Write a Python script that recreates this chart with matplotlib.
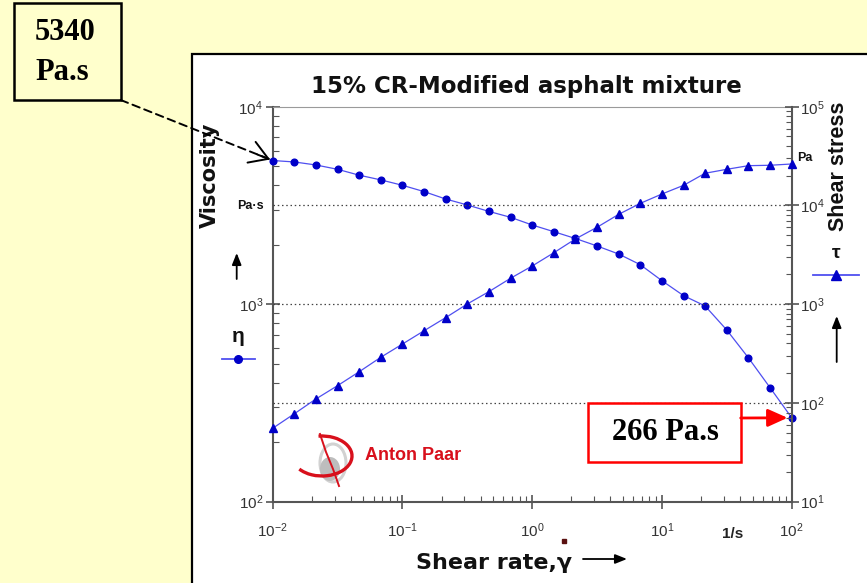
import matplotlib
matplotlib.use('Agg')
import matplotlib.pyplot as plt
from matplotlib.patches import Rectangle, Ellipse, Arc
from matplotlib.ticker import LogLocator, NullFormatter

# canvas size in pixels
W, H = 867, 583

BG = '#ffffcc'
LINE = '#4f4ff0'
MARK = '#0000c8'
AXC = '#555555'
TXT = '#333333'
WIDE = 'DejaVu Sans'   # wider bold face for the big labels

plt.rcParams['font.family'] = ['Liberation Sans', 'DejaVu Sans']

# data
shear_rate = [0.01, 0.0147, 0.0215, 0.0316, 0.0464, 0.0681, 0.1, 0.147, 0.215,
              0.316, 0.464, 0.681, 1.0, 1.47, 2.15, 3.16, 4.64, 6.81, 10.0,
              14.7, 21.5, 31.6, 46.4, 68.1, 100.0]
viscosity = [5340, 5250, 5070, 4820, 4500, 4260, 4000, 3715, 3410, 3180, 2950,
             2754, 2518, 2328, 2152, 1972, 1795, 1585, 1315, 1104, 980, 740,
             535, 378, 266]
shear_stress = [55.4, 77.8, 109.6, 149.6, 207, 290, 395, 539, 730, 1005, 1340,
                1830, 2437, 3323, 4575, 6010, 8130, 10500, 13060, 16000, 21180,
                23230, 25280, 25520, 26300]
grid_levels = [1e2, 1e3, 1e4]

fig = plt.figure(figsize=(W / 100, H / 100), dpi=100, facecolor=BG)

# white chart panel
panel = Rectangle((192 / W, -0.02), 0.85, 1 - 54 / H + 0.02, transform=fig.transFigure,
                  facecolor='white', edgecolor='black', linewidth=1.6, zorder=-5)
fig.add_artist(panel)

ax = fig.add_axes([272.7 / W, 1 - 501.7 / H, 519 / W, 395 / H])
ax.set_xscale('log')
ax.set_yscale('log')
ax.set_xlim(1e-2, 1e2)
ax.set_ylim(1e2, 1e4)

ax2 = ax.twinx()
ax2.set_yscale('log')
ax2.set_ylim(1e1, 1e5)

for v in grid_levels:
    ax2.axhline(v, color='#444444', linestyle=(0, (1.2, 2.2)), linewidth=0.9, zorder=1)

ax.plot(shear_rate, viscosity, color=LINE, linewidth=0.9, marker='o', markersize=4.8,
        markerfacecolor=MARK, markeredgecolor=MARK, zorder=3, clip_on=False)
ax2.plot(shear_rate, shear_stress, color=LINE, linewidth=0.9, marker='^', markersize=5.8,
         markerfacecolor=MARK, markeredgecolor=MARK, zorder=3, clip_on=False)

# spines
for s in ['left', 'bottom']:
    ax.spines[s].set_color(AXC)
    ax.spines[s].set_linewidth(1.5)
ax.spines['top'].set_color('#9a9a9a')
ax.spines['top'].set_linewidth(0.8)
ax.spines['right'].set_visible(False)
for s in ['left', 'bottom', 'top']:
    ax2.spines[s].set_visible(False)
ax2.spines['right'].set_color(AXC)
ax2.spines['right'].set_linewidth(1.5)

# ticks
for a in (ax, ax2):
    a.tick_params(which='major', direction='inout', length=10, width=1.2, color=AXC,
                  labelcolor=TXT, labelsize=11)
    a.tick_params(which='minor', direction='in', length=4, width=0.8, color=AXC)
    a.yaxis.set_minor_locator(LogLocator(base=10, subs=range(2, 10)))
    a.yaxis.set_minor_formatter(NullFormatter())
ax.xaxis.set_minor_locator(LogLocator(base=10, subs=range(2, 10)))
ax.xaxis.set_minor_formatter(NullFormatter())
ax.tick_params(axis='x', pad=9, top=False)
ax.tick_params(axis='y', pad=2)
ax2.tick_params(axis='y', pad=1)

# overlay in pixel coordinates for labels and call-outs
ov = fig.add_axes([0, 0, 1, 1], zorder=10)
ov.set_xlim(0, W)
ov.set_ylim(H, 0)
ov.axis('off')

ov.text(526, 86, '15% CR-Modified asphalt mixture', fontsize=16.5, fontweight='bold',
        family=WIDE, ha='center', va='center', color='#111111')
ov.text(210, 175, 'Viscosity', fontsize=15, fontweight='bold', family=WIDE, rotation=90,
        ha='center', va='center', color='#111111')
ov.text(839, 166, 'Shear stress', fontsize=15.5, fontweight='bold', rotation=90,
        ha='center', va='center', color='#111111')
ov.text(250, 206, 'Pa·s', fontsize=9, fontweight='bold', ha='center', va='center', color='#111111')
ov.text(805, 158, 'Pa', fontsize=9, fontweight='bold', ha='center', va='center', color='#111111')
ov.text(238, 336, 'η', fontsize=15, fontweight='bold', ha='center', va='center', color='#111111')
ov.text(836, 253, 'τ', fontsize=14, fontweight='bold', ha='center', va='center', color='#111111')
ov.text(733, 534, '1/s', fontsize=11, fontweight='bold', ha='center', va='center', color='#222222')
ov.text(416, 563, 'Shear rate,γ', fontsize=16, fontweight='bold', family=WIDE, ha='left',
        va='center', color='#111111')
ov.plot([564], [541], marker='s', markersize=2.5, color='#5a1010')

# legend keys
ov.plot([222, 255], [359, 359], color=LINE, linewidth=1.3)
ov.plot([238], [359], marker='o', markersize=5.5, color=MARK)
ov.plot([813, 859], [275, 275], color=LINE, linewidth=1.3)
ov.plot([836], [275], marker='^', markersize=6.5, color=MARK)

# little black arrows
arrow_kw = dict(arrowstyle='-|>,head_length=0.5,head_width=0.2', color='black',
                linewidth=1.3, mutation_scale=14, shrinkA=0, shrinkB=0)
ov.annotate('', xy=(236.7, 253), xytext=(236.7, 279), arrowprops=arrow_kw)
ov.annotate('', xy=(836.7, 316), xytext=(836.7, 362), arrowprops=arrow_kw)
ov.annotate('', xy=(627, 559), xytext=(583, 559), arrowprops=arrow_kw)

# Anton Paar logo
ov.add_patch(Ellipse((333, 463), 26, 38, facecolor='none', edgecolor='#d2d2d2', linewidth=2.2))
ov.add_patch(Ellipse((330, 469), 20, 24, facecolor='#bdbdbd', edgecolor='none'))
ov.add_patch(Arc((322, 456), 60, 40, theta1=-100, theta2=150, color='#d8101c', linewidth=2.4))
ov.plot([320, 326, 333, 339], [434, 452, 469, 486], color='#d8101c', linewidth=1.4)
ov.text(365, 455, 'Anton Paar', fontsize=13, fontweight='bold', color='#d8101c',
        ha='left', va='center')

# call-out boxes
ov.add_patch(Rectangle((14, 3.3), 106.7, 96.7, facecolor=BG, edgecolor='black', linewidth=1.8))
ov.text(35, 33, '5340', fontsize=22, fontweight='bold', family='Liberation Serif',
        ha='left', va='center')
ov.text(35, 72, 'Pa.s', fontsize=22, fontweight='bold', family='Liberation Serif',
        ha='left', va='center')
# dashed shaft, then a solid open head on the first viscosity point
ov.annotate('', xy=(shear_rate[0], viscosity[0]), xycoords=ax.transData,
            xytext=(120.7, 100), textcoords='data',
            arrowprops=dict(arrowstyle='-', linestyle=(0, (4, 2.5)), linewidth=1.4,
                            color='black', shrinkA=0, shrinkB=2))
ov.annotate('', xy=(shear_rate[0], viscosity[0]), xycoords=ax.transData,
            xytext=(-11, 4.3), textcoords='offset points',
            arrowprops=dict(arrowstyle='->,head_length=0.65,head_width=0.4', linewidth=1.4,
                            color='black', shrinkA=0, shrinkB=2, mutation_scale=20))

ov.add_patch(Rectangle((588.3, 403.3), 152.4, 58.4, facecolor='white', edgecolor='red',
                       linewidth=1.8))
ov.text(665, 433, '266 Pa.s', fontsize=22, fontweight='bold', family='Liberation Serif',
        ha='center', va='center')
ov.annotate('', xy=(shear_rate[-1], viscosity[-1]), xycoords=ax.transData,
            xytext=(740.7, 418), textcoords='data',
            arrowprops=dict(arrowstyle='-|>,head_length=0.6,head_width=0.27', linewidth=2,
                            color='red', shrinkA=0, shrinkB=3, mutation_scale=20))

fig.savefig('out.png', dpi=100, facecolor=BG)
